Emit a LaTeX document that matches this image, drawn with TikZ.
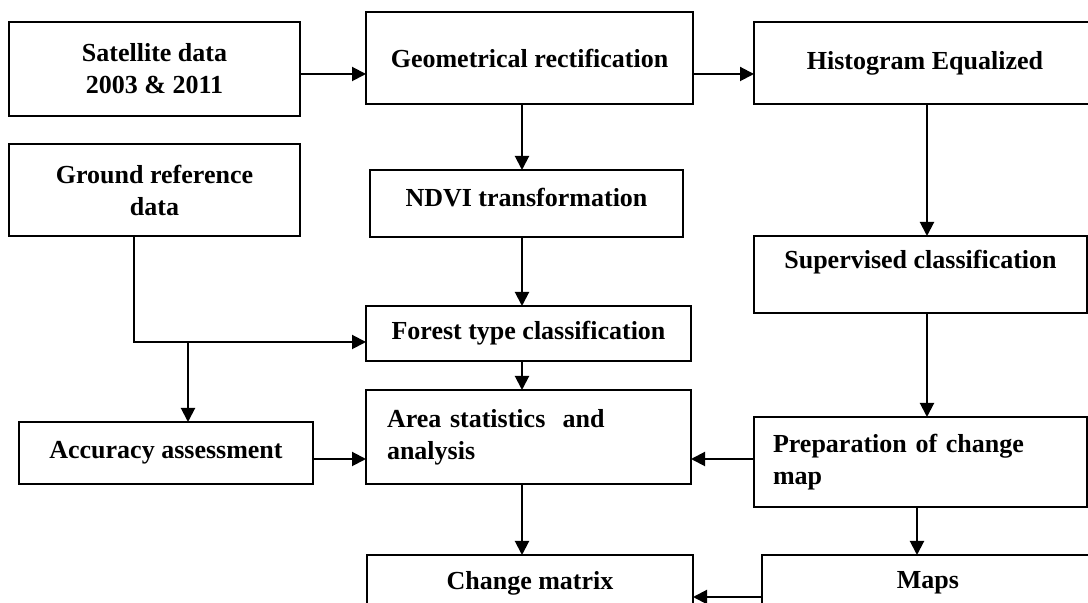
\documentclass[tikz,border=0pt]{standalone}
\usepackage{fontspec}
\setmainfont{Liberation Serif}
\usetikzlibrary{arrows.meta}

\begin{document}
\begin{tikzpicture}
	[
		x=0.5pt, y=-0.5pt,
		every node/.style = {font=\bfseries\fontsize{13}{16}\selectfont},
		box/.style = {draw, shape=rectangle, align=center, inner sep=0pt, outer sep=0pt, line width=0.9pt},
		leftbox/.style = {box, align=left},
		flow/.style = {draw, line width=1pt, -{Triangle[length=7pt,width=7pt]}},
	]
  \useasboundingbox (0,0) rectangle (1088,603);
  \clip (0,0) rectangle (1088,603);

  % left column
  \node[box, minimum width=145.5pt, minimum height=47pt] (sat) at (154.5,69) {Satellite data\\2003 \& 2011};
  \node[box, minimum width=145.5pt, minimum height=46pt] (ground) at (154.5,190) {Ground reference\\data};
  \node[box, minimum width=147pt, minimum height=31pt] (acc) at (166,453) {Accuracy assessment};

  % middle column
  \node[box, minimum width=163.5pt, minimum height=46pt] (geo) at (529.5,58) {Geometrical rectification};
  \node[box, minimum width=156.5pt, minimum height=33.5pt, text depth=6.5pt] (ndvi) at (526.5,203.5) {NDVI transformation};
  \node[box, minimum width=162.5pt, minimum height=27.5pt] (forest) at (528.5,333.5) {Forest type classification};
  \node[leftbox, inner xsep=10.5pt, text width=141.5pt, minimum height=47pt] (area) at (528.5,437) {Area statistics\ \ and\\analysis};
  \node[box, minimum width=163pt, minimum height=28pt] (chg) at (530,583) {Change matrix};

  % right column
  \node[box, minimum width=171pt, minimum height=41pt] (hist) at (925,63) {Histogram Equalized};
  \node[box, minimum width=166.5pt, minimum height=38.5pt, text depth=15pt] (sup) at (920.5,274.5) {Supervised classification};
  \node[leftbox, inner xsep=9.5pt, text width=147.5pt, minimum height=45pt] (prep) at (920.5,462) {Preparation of change\\map};
  \node[box, minimum width=166pt, minimum height=28pt] (maps) at (928,583) {Maps};

  % rows and columns of the connectors
  \coordinate (r1) at (0,74);
  \coordinate (r2) at (0,459);
  \coordinate (r3) at (0,597);
  \coordinate (c1) at (522,0);
  \coordinate (c2) at (927,0);
  \coordinate (c3) at (917,0);
  \coordinate (j) at (134,342);
  \coordinate (b) at (188,342);

  \draw[flow] (sat.east |- r1) -- (geo.west |- r1);
  \draw[flow] (geo.east |- r1) -- (hist.west |- r1);
  \draw[flow] (geo.south -| c1) -- (ndvi.north -| c1);
  \draw[flow] (ndvi.south -| c1) -- (forest.north -| c1);
  \draw[flow] (forest.south -| c1) -- (area.north -| c1);
  \draw[flow] (area.south -| c1) -- (chg.north -| c1);
  \draw[flow] (hist.south -| c2) -- (sup.north -| c2);
  \draw[flow] (sup.south -| c2) -- (prep.north -| c2);
  \draw[flow] (prep.south -| c3) -- (maps.north -| c3);
  \draw[flow] (ground.south -| j) -- (j) -- (forest.west |- j);
  \draw[flow] (b) -- (acc.north -| b);
  \draw[flow] (acc.east |- r2) -- (area.west |- r2);
  \draw[flow] (prep.west |- r2) -- (area.east |- r2);
  \draw[flow] (maps.west |- r3) -- (chg.east |- r3);

\end{tikzpicture}
\end{document}
